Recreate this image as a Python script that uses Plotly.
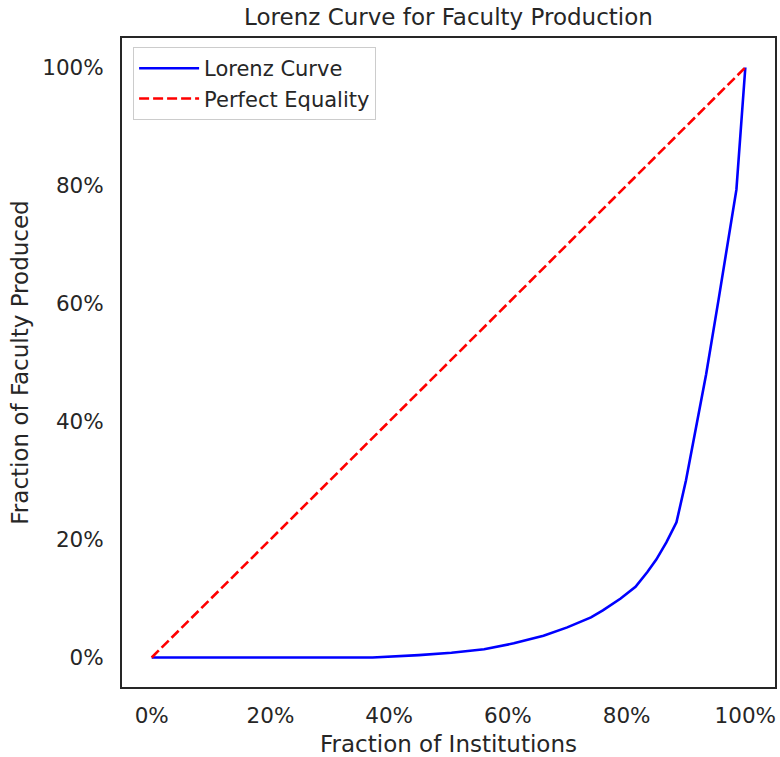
import plotly.graph_objects as go

frac_inst = [0, 0.372, 0.45, 0.505, 0.56, 0.61, 0.66, 0.70, 0.74, 0.76, 0.79, 0.815,
             0.835, 0.85, 0.867, 0.884, 0.90, 0.916, 0.934, 0.955, 0.985, 1.0]
frac_fac = [0, 0, 0.004, 0.008, 0.014, 0.024, 0.037, 0.051, 0.068, 0.08, 0.10, 0.12,
            0.145, 0.166, 0.195, 0.229, 0.30, 0.383, 0.48, 0.607, 0.793, 1.0]
equal_x = [0, 1]
equal_y = [0, 1]
ticks = [0, 0.2, 0.4, 0.6, 0.8, 1.0]
tick_labels = ["0%", "20%", "40%", "60%", "80%", "100%"]

fig = go.Figure()
fig.add_trace(go.Scatter(x=frac_inst, y=frac_fac, mode="lines", name="Lorenz Curve",
                         line=dict(color="blue", width=2.6)))
fig.add_trace(go.Scatter(x=equal_x, y=equal_y, mode="lines", name="Perfect Equality",
                         line=dict(color="red", width=2.6, dash="10px,4px")))

axis_common = dict(showgrid=False, zeroline=False, showline=True, mirror=True,
                   linecolor="#262626", linewidth=2, ticks="",
                   tickfont=dict(size=21.5, color="#262626"),
                   tickvals=ticks, ticktext=tick_labels, range=[-0.05, 1.05])

fig.update_layout(
    width=780, height=757,
    margin=dict(l=122, r=3, t=38, b=70),
    paper_bgcolor="white", plot_bgcolor="white",
    font=dict(family="DejaVu Sans", color="#262626"),
    title=dict(text="Lorenz Curve for Faculty Production", xref="paper", x=0.5, xanchor="center",
               y=0.977, yanchor="middle", font=dict(size=23, color="#262626")),
    xaxis=dict(**axis_common, ticklabelstandoff=8,
               title=dict(text="Fraction of Institutions", font=dict(size=23), standoff=10)),
    yaxis=dict(**axis_common, ticklabelstandoff=12,
               title=dict(text="Fraction of Faculty Produced", font=dict(size=23), standoff=7)),
    legend=dict(x=0.017, y=0.986, xanchor="left", yanchor="top",
                bgcolor="rgba(255,255,255,0.8)", bordercolor="#cccccc", borderwidth=1,
                font=dict(size=21, color="#262626"), itemwidth=60),
    showlegend=True,
)

fig.write_html("out.html")
